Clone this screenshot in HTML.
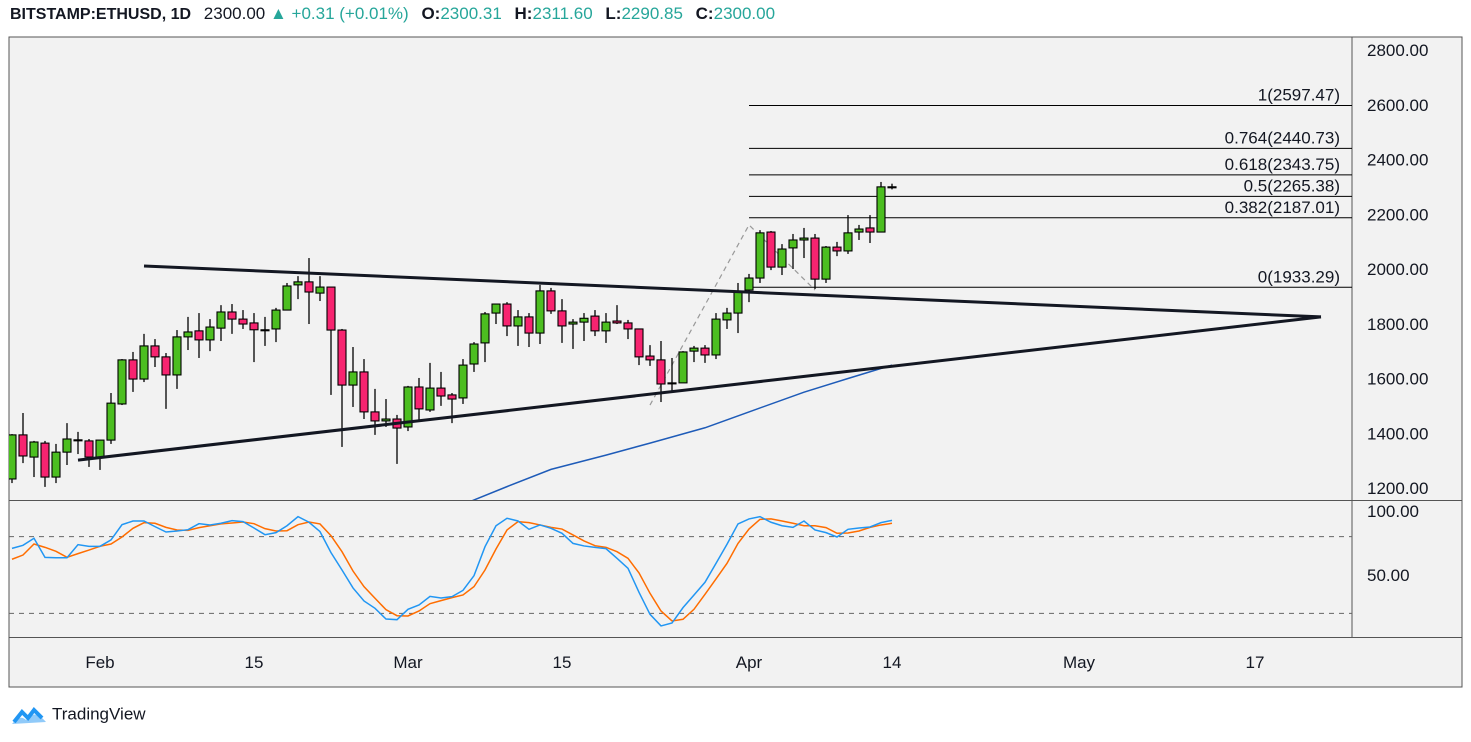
<!DOCTYPE html>
<html><head><meta charset="utf-8">
<style>
html,body{margin:0;padding:0;background:#fff;width:1471px;height:742px;overflow:hidden;font-family:"Liberation Sans",sans-serif;}
#hdr{position:absolute;left:10px;top:4px;font-size:17px;color:#131722;white-space:nowrap;}
#hdr b{font-weight:bold}
#hdr .g{color:#26a69a;font-weight:normal}
#hdr .s{margin-left:8px}
#logo{position:absolute;left:12px;top:704px;font-size:17px;color:#131722;}
svg{position:absolute;left:0;top:0}
</style></head><body>
<div id="hdr"><b style="font-size:16px">BITSTAMP:ETHUSD, 1D</b> <span class="s">2300.00</span> <span class="g">▲ +0.31 (+0.01%)</span> <span class="s"><b>O:</b><span class="g">2300.31</span></span> <span class="s"><b>H:</b><span class="g">2311.60</span></span> <span class="s"><b>L:</b><span class="g">2290.85</span></span> <span class="s"><b>C:</b><span class="g">2300.00</span></span></div>
<svg id="chart" width="1471" height="742"></svg>
<div id="logo"><svg width="36" height="22" style="position:relative;vertical-align:middle;margin-right:4px"><path d="M2 18 L10 8 L16 14 L22 6 L30 14" stroke="#2196f3" stroke-width="4" fill="none"/><path d="M0 20 Q8 10 14 16 Q22 4 34 18 Z" fill="#2196f3" opacity="0.5"/></svg>TradingView</div>
<script>
const opens=[1233,1394,1313,1364,1240,1331,1375,1372,1313,1375,1507,1668,1598,1719,1679,1613,1752,1774,1741,1784,1843,1817,1803,1777,1781,1850,1942,1953,1912,1934,1777,1576,1624,1478,1445,1452,1423,1569,1485,1565,1540,1529,1653,1730,1839,1872,1792,1825,1766,1920,1847,1799,1806,1828,1774,1810,1803,1781,1682,1668,1584,1584,1700,1711,1686,1814,1839,1923,1967,2135,2007,2077,2106,2113,1963,2080,2066,2135,2150,2135,2300.31];
const highs=[1397,1474,1372,1372,1361,1437,1405,1379,1375,1547,1671,1697,1763,1744,1693,1777,1825,1839,1817,1868,1872,1850,1839,1825,1858,1949,1974,2040,1974,1934,1781,1715,1671,1562,1525,1467,1573,1602,1657,1624,1547,1671,1733,1843,1872,1879,1850,1839,1942,1931,1890,1817,1839,1850,1839,1868,1814,1781,1722,1737,1675,1700,1719,1722,1839,1858,1949,1982,2142,2139,2091,2128,2150,2128,2084,2099,2197,2161,2197,2318,2311.6];
const lows=[1218,1291,1240,1204,1218,1284,1324,1277,1266,1361,1503,1551,1587,1642,1489,1562,1704,1675,1700,1737,1763,1781,1660,1719,1733,1850,1890,1799,1883,1540,1350,1496,1452,1394,1423,1288,1408,1448,1478,1500,1437,1507,1624,1660,1799,1755,1719,1715,1726,1836,1730,1708,1737,1755,1730,1799,1744,1649,1646,1514,1547,1584,1660,1657,1671,1781,1766,1879,1949,1996,1978,2000,2040,1927,1949,2047,2055,2106,2095,2135,2290.85];
const closes=[1394,1317,1368,1240,1331,1379,1376,1313,1375,1510,1668,1598,1719,1679,1613,1752,1770,1741,1788,1843,1817,1799,1778,1778,1850,1938,1953,1916,1934,1777,1576,1624,1478,1445,1452,1419,1569,1489,1565,1536,1525,1649,1726,1836,1872,1792,1825,1766,1920,1847,1792,1806,1820,1774,1806,1803,1781,1679,1668,1580,1584,1697,1711,1686,1817,1839,1916,1967,2132,2007,2073,2106,2113,1963,2080,2066,2132,2146,2135,2300,2300];
const stochK=[70.8,73.2,78.7,63.8,63.5,63.5,73.7,72.4,72.4,77.4,89.3,92.2,92.2,87.8,83.6,84.4,85.4,90.1,89.1,90.4,92.5,91.7,86.7,81.5,83.1,88.5,95.6,91.2,83.9,67.5,53.9,39.9,29.7,24.0,15.6,15.1,23.2,26.6,33.3,32.0,33.1,38.0,49.5,72.1,88.5,94.3,92.2,85.7,89.1,86.5,82.6,74.7,72.7,71.6,70.6,63.0,55.2,36.5,19.3,10.2,12.5,24.5,34.4,44.3,59.1,74.0,89.9,93.8,95.6,91.2,88.5,87.2,92.2,85.2,83.1,79.7,85.7,86.7,87.5,90.9,92.7];
const stochD=[62.3,65.6,74.2,71.6,68.5,63.8,66.7,69.5,72.4,74.2,79.7,86.5,90.9,90.4,87.2,85.2,84.9,87.0,88.5,89.9,90.6,91.4,90.1,86.2,84.4,84.6,89.3,91.4,89.9,80.7,68.2,53.1,40.9,31.8,22.9,18.2,18.0,21.9,27.6,30.0,32.3,34.4,40.9,53.9,70.3,85.2,91.7,90.9,89.1,87.2,85.9,81.3,76.6,72.9,71.6,68.2,63.0,51.6,35.7,21.9,14.1,15.4,23.2,34.9,46.9,59.1,74.7,85.9,93.5,93.8,92.2,90.4,88.5,88.5,87.0,82.6,82.8,84.4,87.2,89.1,90.4];
const maIdx=[41,45,49,54,58,63,67,72,76,80];
const maVal=[1140,1205,1268,1320,1364,1420,1478,1550,1600,1649];
const fibRatios=["1","0.764","0.618","0.5","0.382","0"];
const fibPrices=[2597.47,2440.73,2343.75,2265.38,2187.01,1933.29];
const priceTicks=[2800,2600,2400,2200,2000,1800,1600,1400,1200];
const stochTicks=[100,50];
const dateLabels=["Feb","15","Mar","15","Apr","14","May","17"];
const dateIdx=[8,22,36,50,67,80,97,113];
const upperLine=[[12,2011],[119,1825]];
const lowerLine=[[6,1302],[119,1825]];
const dashTrend=[[58,1503],[67,2161],[73,1923]];

const X=i=>12+11*i;
const Y=p=>50+(2800-p)*0.27375;
const YS=v=>639-v*1.28;
const svg=document.getElementById('chart');
const NS='http://www.w3.org/2000/svg';
function mk(tag,attrs,parent){const e=document.createElementNS(NS,tag);for(const k in attrs)e.setAttribute(k,attrs[k]);(parent||svg).appendChild(e);return e;}

let e;
e=mk('rect',{x:9,y:37,width:1453,height:650,fill:'#f2f2f2',stroke:'#555','stroke-width':1});


e=mk('line',{x1:1352,y1:37,x2:1352,y2:637,stroke:'#555'});


e=mk('line',{x1:9,y1:500.5,x2:1462,y2:500.5,stroke:'#555'});


e=mk('line',{x1:9,y1:637.5,x2:1462,y2:637.5,stroke:'#555'});



const defs=mk('defs',{});
const cp=mk('clipPath',{id:'pp'},defs);
mk('rect',{x:9,y:37,width:1343,height:463},cp);
const cs=mk('clipPath',{id:'sp'},defs);
mk('rect',{x:9,y:501,width:1343,height:136},cs);
const gP=mk('g',{'clip-path':'url(#pp)'});


const gS=mk('g',{'clip-path':'url(#sp)'});



priceTicks.forEach(p=>{
  const t=mk('text',{x:1367,y:Y(p)+6,'font-size':17,fill:'#131722','font-family':'Liberation Sans, sans-serif'});
  t.textContent=p.toFixed(2);
  
  
});
stochTicks.forEach(v=>{
  const t=mk('text',{x:1367,y:YS(v)+6,'font-size':17,fill:'#131722','font-family':'Liberation Sans, sans-serif'});
  t.textContent=v.toFixed(2);
  
  
});
dateLabels.forEach((d,k)=>{
  const t=mk('text',{x:X(dateIdx[k]),y:668,'font-size':17,fill:'#131722','text-anchor':'middle','font-family':'Liberation Sans, sans-serif'});
  t.textContent=d;
  
  
});

e=mk('polyline',{points:maIdx.map((i,k)=>X(i)+','+Y(maVal[k])).join(' '),fill:'none',stroke:'#1e5bb8','stroke-width':1.5},gP);



fibPrices.forEach((p,k)=>{
  const l=mk('line',{x1:749,y1:Y(p),x2:1352,y2:Y(p),stroke:'#000','stroke-width':1},gP);
  
  
  const t=mk('text',{x:1340,y:Y(p)-5,'font-size':17,fill:'#131722','text-anchor':'end','font-family':'Liberation Sans, sans-serif'},gP);
  t.textContent=fibRatios[k]+'('+p.toFixed(2)+')';
  
  
});
e=mk('polyline',{points:dashTrend.map(d=>X(d[0])+','+Y(d[1])).join(' '),fill:'none',stroke:'#999','stroke-width':1.2,'stroke-dasharray':'5,4'},gP);



for(let i=0;i<opens.length;i++){
  const up=closes[i]>=opens[i];
  const g=mk('g',{},gP);
  
  
  mk('line',{x1:X(i),y1:Y(highs[i]),x2:X(i),y2:Y(lows[i]),stroke:'#000','stroke-width':1.3},g);
  const top=Y(Math.max(opens[i],closes[i])), bot=Y(Math.min(opens[i],closes[i]));
  mk('rect',{x:X(i)-4,y:top,width:8,height:Math.max(bot-top,1),fill:up?'#4cbe20':'#f72470',stroke:'#000','stroke-width':1.1},g);
}

[upperLine,lowerLine].forEach((L,k)=>{
  const l=mk('line',{x1:X(L[0][0]),y1:Y(L[0][1]),x2:X(L[1][0]),y2:Y(L[1][1]),stroke:'#131722','stroke-width':3},gP);
  
  
});

[80,20].forEach(v=>{
  const l=mk('line',{x1:9,y1:YS(v),x2:1352,y2:YS(v),stroke:'#666','stroke-dasharray':'5,5'},gS);
  
  
});
e=mk('polyline',{points:stochD.map((v,i)=>X(i)+','+YS(v)).join(' '),fill:'none',stroke:'#ff6d00','stroke-width':1.5},gS);


e=mk('polyline',{points:stochK.map((v,i)=>X(i)+','+YS(v)).join(' '),fill:'none',stroke:'#2196f3','stroke-width':1.5},gS);


</script>
</body></html>
